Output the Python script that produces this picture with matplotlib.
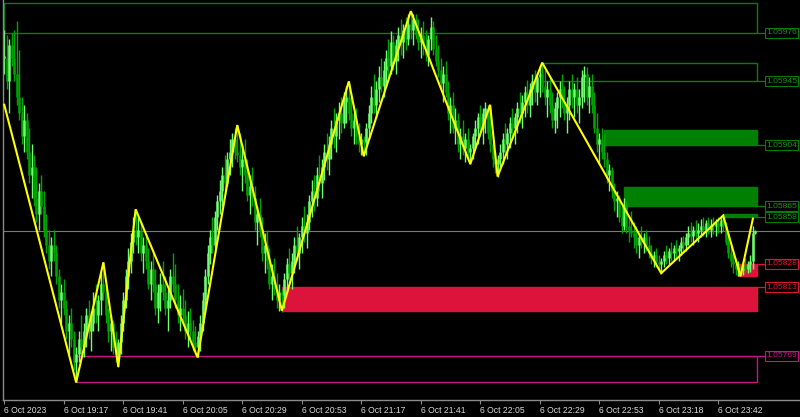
import matplotlib
matplotlib.use("Agg")
import matplotlib.pyplot as plt
from matplotlib.patches import Rectangle
import numpy as np

# ---------------- data (1-minute bars, EURUSD-like) ----------------
highs = [
1.05978,1.05975,1.05972,1.05976,1.05978,1.05984,1.05965,1.05935,1.05930,1.05925,
1.05915,1.05905,1.05898,1.05890,1.05880,1.05885,1.05875,1.05860,1.05850,1.05845,
1.05850,1.05840,1.05825,1.05815,1.05818,1.05805,1.05795,1.05800,1.05785,1.05775,
1.05785,1.05795,1.05790,1.05800,1.05805,1.05798,1.05810,1.05815,1.05808,1.05822,
1.05829,1.05815,1.05800,1.05795,1.05792,1.05785,1.05780,1.05795,1.05810,1.05825,
1.05838,1.05848,1.05858,1.05863,1.05858,1.05855,1.05845,1.05848,1.05838,1.05830,
1.05835,1.05825,1.05815,1.05822,1.05830,1.05820,1.05812,1.05825,1.05835,1.05828,
1.05815,1.05808,1.05812,1.05805,1.05798,1.05800,1.05792,1.05788,1.05785,1.05795,
1.05810,1.05825,1.05840,1.05850,1.05858,1.05862,1.05872,1.05882,1.05890,1.05898,
1.05900,1.05908,1.05912,1.05915,1.05917,1.05912,1.05905,1.05908,1.05895,1.05885,
1.05890,1.05878,1.05865,1.05870,1.05858,1.05848,1.05850,1.05838,1.05828,1.05832,
1.05822,1.05815,1.05812,1.05822,1.05832,1.05838,1.05835,1.05845,1.05852,1.05848,
1.05858,1.05865,1.05860,1.05872,1.05882,1.05885,1.05890,1.05898,1.05895,1.05905,
1.05912,1.05910,1.05920,1.05928,1.05925,1.05932,1.05935,1.05938,1.05942,1.05945,
1.05935,1.05925,1.05928,1.05918,1.05912,1.05910,1.05918,1.05930,1.05942,1.05950,
1.05945,1.05955,1.05960,1.05958,1.05965,1.05972,1.05977,1.05975,1.05972,1.05980,
1.05985,1.05982,1.05986,1.05988,1.05990,1.05988,1.05988,1.05985,1.05980,1.05984,
1.05978,1.05975,1.05986,1.05984,1.05975,1.05968,1.05960,1.05955,1.05958,1.05945,
1.05935,1.05938,1.05928,1.05925,1.05915,1.05920,1.05912,1.05915,1.05905,1.05912,
1.05920,1.05925,1.05930,1.05928,1.05932,1.05930,1.05930,1.05910,1.05900,1.05898,
1.05905,1.05912,1.05918,1.05915,1.05922,1.05928,1.05925,1.05932,1.05938,1.05936,
1.05942,1.05946,1.05944,1.05950,1.05952,1.05950,1.05955,1.05957,1.05952,1.05945,
1.05948,1.05938,1.05932,1.05938,1.05945,1.05950,1.05942,1.05935,1.05945,1.05950,
1.05944,1.05948,1.05940,1.05952,1.05955,1.05954,1.05948,1.05950,1.05938,1.05925,
1.05912,1.05915,1.05912,1.05900,1.05892,1.05890,1.05880,1.05875,1.05872,1.05865,
1.05870,1.05868,1.05858,1.05862,1.05855,1.05852,1.05848,1.05852,1.05848,1.05850,
1.05846,1.05840,1.05836,1.05838,1.05834,1.05832,1.05836,1.05840,1.05838,1.05842,
1.05840,1.05843,1.05840,1.05845,1.05846,1.05848,1.05852,1.05855,1.05852,1.05856,
1.05854,1.05857,1.05858,1.05856,1.05858,1.05857,1.05858,1.05857,1.05858,1.05858,
1.05859,1.05855,1.05848,1.05840,1.05835,1.05832,1.05830,1.05828,1.05830,1.05832,
1.05830,1.05834,1.05852,1.05850,
]
lows = [
1.05950,1.05940,1.05925,1.05955,1.05945,1.05930,1.05920,1.05905,1.05900,1.05895,
1.05880,1.05870,1.05865,1.05855,1.05850,1.05860,1.05845,1.05835,1.05825,1.05820,
1.05830,1.05815,1.05800,1.05790,1.05795,1.05780,1.05770,1.05775,1.05760,1.05752,
1.05765,1.05770,1.05768,1.05775,1.05780,1.05772,1.05785,1.05790,1.05785,1.05795,
1.05805,1.05790,1.05778,1.05772,1.05770,1.05765,1.05762,1.05770,1.05785,1.05800,
1.05812,1.05822,1.05835,1.05840,1.05835,1.05830,1.05822,1.05825,1.05812,1.05805,
1.05810,1.05795,1.05790,1.05798,1.05805,1.05795,1.05785,1.05800,1.05810,1.05800,
1.05790,1.05785,1.05790,1.05780,1.05775,1.05780,1.05772,1.05770,1.05768,1.05772,
1.05785,1.05800,1.05815,1.05828,1.05835,1.05838,1.05850,1.05860,1.05865,1.05872,
1.05878,1.05885,1.05890,1.05895,1.05893,1.05885,1.05875,1.05880,1.05868,1.05860,
1.05865,1.05850,1.05840,1.05845,1.05830,1.05822,1.05825,1.05812,1.05805,1.05808,
1.05800,1.05798,1.05797,1.05800,1.05810,1.05815,1.05812,1.05822,1.05830,1.05825,
1.05835,1.05842,1.05838,1.05850,1.05858,1.05862,1.05865,1.05875,1.05870,1.05882,
1.05888,1.05885,1.05895,1.05902,1.05900,1.05908,1.05912,1.05915,1.05918,1.05920,
1.05910,1.05905,1.05905,1.05900,1.05898,1.05897,1.05898,1.05908,1.05918,1.05925,
1.05922,1.05932,1.05938,1.05935,1.05942,1.05948,1.05950,1.05952,1.05950,1.05958,
1.05962,1.05960,1.05965,1.05968,1.05972,1.05968,1.05972,1.05965,1.05960,1.05962,
1.05958,1.05955,1.05965,1.05962,1.05955,1.05948,1.05940,1.05932,1.05935,1.05920,
1.05912,1.05912,1.05905,1.05900,1.05895,1.05898,1.05893,1.05895,1.05892,1.05895,
1.05902,1.05905,1.05910,1.05905,1.05912,1.05908,1.05900,1.05890,1.05886,1.05884,
1.05888,1.05892,1.05898,1.05895,1.05902,1.05908,1.05905,1.05912,1.05918,1.05915,
1.05922,1.05925,1.05922,1.05930,1.05932,1.05930,1.05935,1.05938,1.05930,1.05922,
1.05925,1.05915,1.05912,1.05915,1.05922,1.05928,1.05920,1.05912,1.05920,1.05928,
1.05922,1.05925,1.05918,1.05928,1.05932,1.05930,1.05925,1.05925,1.05912,1.05900,
1.05892,1.05895,1.05890,1.05880,1.05875,1.05870,1.05862,1.05858,1.05855,1.05848,
1.05850,1.05848,1.05842,1.05845,1.05838,1.05835,1.05832,1.05838,1.05835,1.05836,
1.05832,1.05828,1.05826,1.05826,1.05824,1.05822,1.05826,1.05828,1.05828,1.05830,
1.05830,1.05832,1.05830,1.05834,1.05836,1.05836,1.05840,1.05842,1.05840,1.05844,
1.05842,1.05845,1.05846,1.05845,1.05847,1.05845,1.05847,1.05846,1.05848,1.05848,
1.05849,1.05840,1.05832,1.05826,1.05822,1.05821,1.05820,1.05820,1.05821,1.05822,
1.05822,1.05823,1.05825,1.05847,
]
closes = [
1.05960,1.05945,1.05968,1.05960,1.05950,1.05935,1.05925,1.05910,1.05920,1.05900,
1.05885,1.05890,1.05870,1.05860,1.05875,1.05865,1.05850,1.05840,1.05830,1.05840,
1.05835,1.05820,1.05805,1.05810,1.05800,1.05785,1.05790,1.05780,1.05765,1.05770,
1.05780,1.05775,1.05785,1.05795,1.05785,1.05790,1.05800,1.05795,1.05805,1.05815,
1.05810,1.05795,1.05785,1.05790,1.05775,1.05770,1.05778,1.05790,1.05805,1.05820,
1.05830,1.05842,1.05850,1.05845,1.05850,1.05835,1.05840,1.05830,1.05815,1.05825,
1.05815,1.05800,1.05810,1.05815,1.05810,1.05800,1.05805,1.05820,1.05815,1.05805,
1.05795,1.05800,1.05795,1.05785,1.05790,1.05785,1.05778,1.05775,1.05782,1.05790,
1.05805,1.05820,1.05835,1.05845,1.05840,1.05858,1.05868,1.05875,1.05885,1.05880,
1.05895,1.05900,1.05908,1.05900,1.05898,1.05890,1.05895,1.05885,1.05872,1.05878,
1.05870,1.05855,1.05860,1.05850,1.05835,1.05840,1.05830,1.05815,1.05820,1.05812,
1.05805,1.05810,1.05808,1.05818,1.05828,1.05822,1.05830,1.05840,1.05835,1.05845,
1.05852,1.05848,1.05855,1.05868,1.05875,1.05870,1.05885,1.05880,1.05890,1.05900,
1.05895,1.05905,1.05915,1.05910,1.05920,1.05925,1.05918,1.05932,1.05935,1.05925,
1.05915,1.05920,1.05910,1.05905,1.05908,1.05906,1.05915,1.05925,1.05935,1.05930,
1.05940,1.05948,1.05942,1.05952,1.05960,1.05955,1.05970,1.05958,1.05968,1.05975,
1.05970,1.05978,1.05972,1.05982,1.05978,1.05985,1.05975,1.05970,1.05975,1.05968,
1.05962,1.05972,1.05980,1.05966,1.05958,1.05952,1.05944,1.05950,1.05938,1.05925,
1.05930,1.05915,1.05920,1.05905,1.05910,1.05902,1.05908,1.05900,1.05902,1.05910,
1.05915,1.05922,1.05915,1.05925,1.05928,1.05912,1.05905,1.05895,1.05892,1.05895,
1.05900,1.05908,1.05905,1.05912,1.05918,1.05915,1.05922,1.05928,1.05925,1.05932,
1.05938,1.05930,1.05940,1.05945,1.05938,1.05948,1.05950,1.05942,1.05935,1.05940,
1.05930,1.05920,1.05928,1.05935,1.05940,1.05932,1.05925,1.05930,1.05940,1.05935,
1.05940,1.05930,1.05935,1.05948,1.05950,1.05935,1.05942,1.05930,1.05915,1.05905,
1.05908,1.05900,1.05895,1.05885,1.05888,1.05875,1.05868,1.05870,1.05858,1.05852,
1.05865,1.05852,1.05850,1.05848,1.05845,1.05840,1.05845,1.05842,1.05845,1.05840,
1.05835,1.05832,1.05834,1.05829,1.05828,1.05830,1.05834,1.05832,1.05836,1.05835,
1.05838,1.05836,1.05838,1.05842,1.05840,1.05845,1.05848,1.05846,1.05850,1.05848,
1.05850,1.05852,1.05850,1.05854,1.05850,1.05853,1.05852,1.05854,1.05852,1.05856,
1.05852,1.05842,1.05835,1.05830,1.05828,1.05825,1.05826,1.05824,1.05827,1.05825,
1.05828,1.05830,1.05848,1.05849,
]

# ZigZag vertices (bar index, price)
zz_idx = [0, 29, 40, 46, 53, 78, 94, 112, 139, 145, 164, 188, 196, 199, 217, 265, 290, 297, 302]
zz_price = [1.05930, 1.05752, 1.05829, 1.05762, 1.05863, 1.05768, 1.05917, 1.05798,
            1.05945, 1.05897, 1.05990, 1.05892, 1.05930, 1.05884, 1.05957, 1.05822,
            1.05859, 1.05820, 1.05857]

# supply / demand zones
zone_start = [0, 217, 242, 250, 290, 296, 112, 29]
zone_top = [1.05995, 1.05957, 1.05914, 1.05877, 1.05860, 1.05828, 1.05813, 1.05769]
zone_bottom = [1.05976, 1.05945, 1.05904, 1.05865, 1.05858, 1.05820, 1.05798, 1.05752]
zone_label = [1.05976, 1.05945, 1.05904, 1.05865, 1.05858, 1.05828, 1.05813, 1.05769]
zone_kind = ["res_line", "res_line", "res_fill", "res_fill", "res_fill",
             "sup_fill", "sup_fill", "sup_line"]

bid_price = 1.05849

tick_idx = [0, 24, 48, 72, 96, 120, 144, 168, 192, 216, 240, 264, 288]
tick_labels = ["6 Oct 2023", "6 Oct 19:17", "6 Oct 19:41", "6 Oct 20:05",
               "6 Oct 20:29", "6 Oct 20:53", "6 Oct 21:17", "6 Oct 21:41",
               "6 Oct 22:05", "6 Oct 22:29", "6 Oct 22:53", "6 Oct 23:18",
               "6 Oct 23:42"]

# ---------------- styling ----------------
plt.rcParams['font.family'] = ['Liberation Sans', 'DejaVu Sans']
W, H = 800, 417
fig = plt.figure(figsize=(W / 100, H / 100), dpi=100, facecolor='black')
ax = fig.add_axes([3 / W, 17 / H, (W - 3) / W, 400 / H])
ax.set_facecolor('black')

ZONE_END = 303.5
LABEL_X = 306.8
styles = {
    "res_line": dict(fill=False, ec='#0b7d0b', fc='none', txt='#139313'),
    "res_fill": dict(fill=True, ec='#008000', fc='#008000', txt='#159a15'),
    "sup_fill": dict(fill=True, ec='#dc143c', fc='#dc143c', txt='#dc143c'),
    "sup_line": dict(fill=False, ec='#c71585', fc='none', txt='#c71585'),
}

for s, t, b, lab, k in zip(zone_start, zone_top, zone_bottom, zone_label, zone_kind):
    st = styles[k]
    r = Rectangle((s, b), ZONE_END - s, t - b, fill=st['fill'],
                  facecolor=st['fc'] if st['fill'] else 'none',
                  edgecolor=st['ec'], lw=1.0, zorder=1)
    ax.add_patch(r)
    ax.plot([ZONE_END, LABEL_X], [lab, lab], color=st['ec'], lw=0.9, zorder=1,
            clip_on=False)
    ax.text(LABEL_X + 0.5, lab, f"{lab:.5f}", color=st['txt'], fontsize=6.1,
            ha='left', va='center', zorder=5,
            bbox=dict(boxstyle='square,pad=0.16', fc='black', ec=st['ec'], lw=0.8))

# bid line
ax.axhline(bid_price, color='#7a7a7a', lw=0.8, zorder=1.5)

# bars
idx = np.arange(len(highs))
opens = [closes[0]] + closes[:-1]
up = np.array(closes) >= np.array(opens)
col = np.where(up, '#6dff6d', '#00a400')
ax.vlines(idx, lows, highs, colors=col, lw=1.0, zorder=2)
body_lo = np.minimum(opens, closes)
body_hi = np.maximum(opens, closes)
body_hi = np.where(body_hi - body_lo < 0.00001, body_lo + 0.00001, body_hi)
ax.vlines(idx, body_lo, body_hi, colors=col, lw=1.8, zorder=2)

# zigzag
ax.plot(zz_idx, zz_price, color='#ffff00', lw=1.5, zorder=3, solid_joinstyle='miter')

ax.set_xlim(-0.5, 321.0)
ax.set_ylim(1.0574074, 1.0599715)

for sp in ['top', 'right']:
    ax.spines[sp].set_visible(False)
for sp in ['left', 'bottom']:
    ax.spines[sp].set_color('#8a8a8a')
    ax.spines[sp].set_linewidth(1.0)

ax.set_yticks([])
ax.set_xticks(tick_idx)
ax.set_xticklabels(tick_labels, fontsize=6.2, color='#d8d8d8')
for lbl in ax.get_xticklabels():
    lbl.set_horizontalalignment('left')
ax.tick_params(axis='x', length=3, width=0.8, color='#8a8a8a', pad=1.5)

fig.savefig('out.png', dpi=100, facecolor='black')
